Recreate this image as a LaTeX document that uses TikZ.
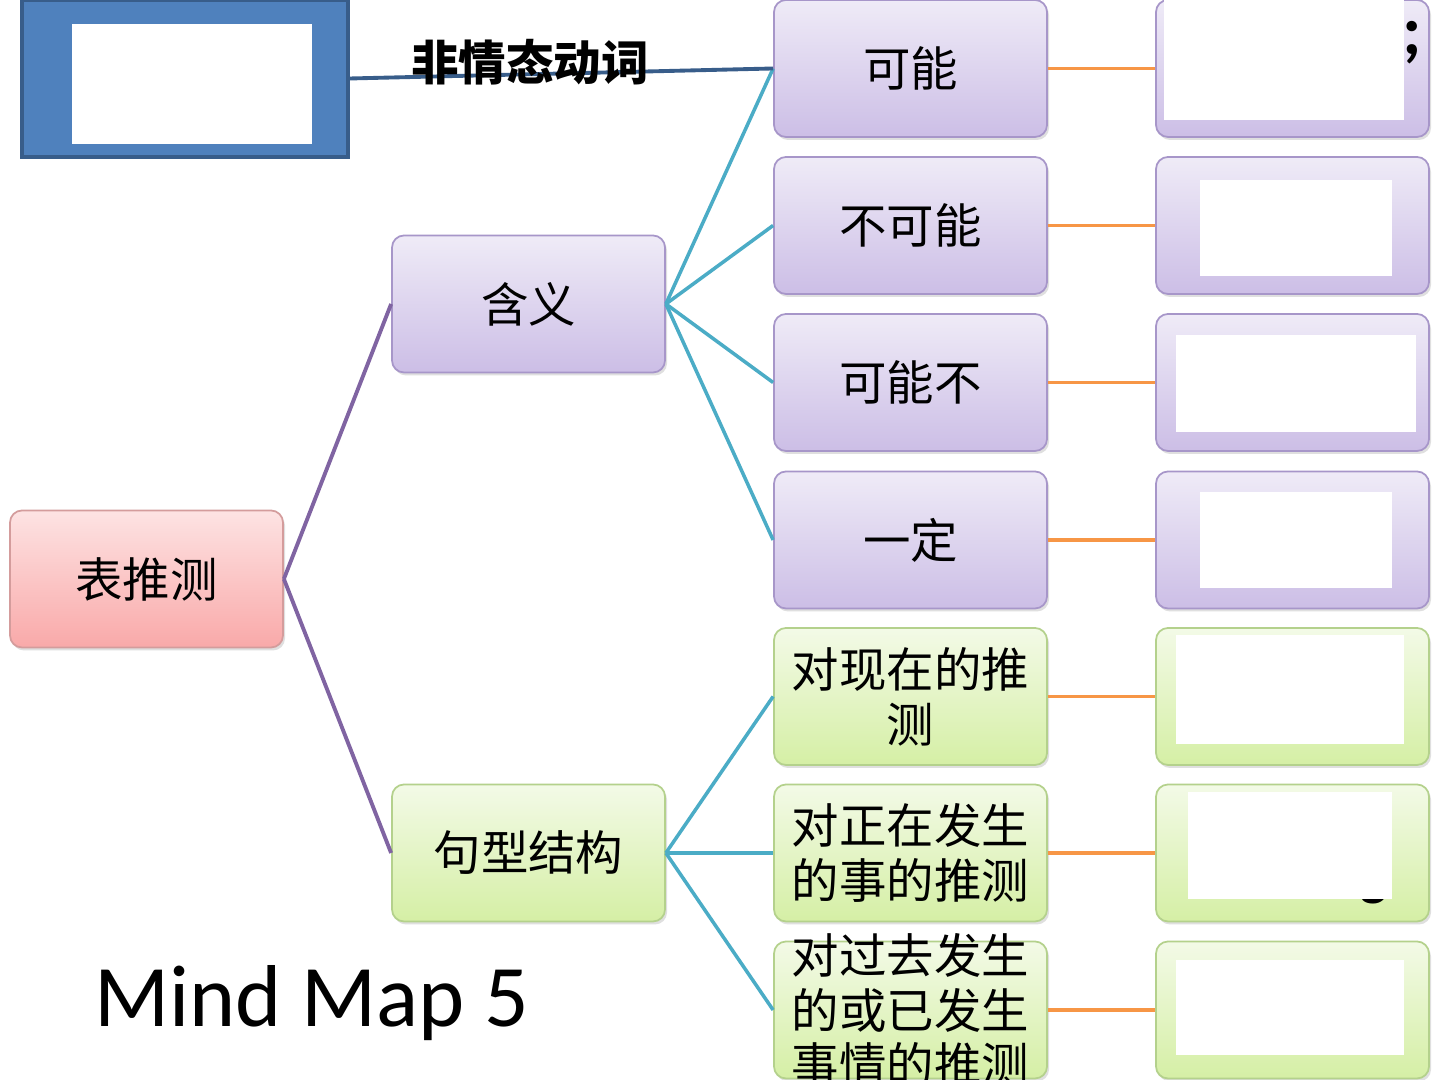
\documentclass[tikz,border=0pt]{standalone}
\usepackage{fontspec}
\setmainfont{Carlito}
\newfontfamily\cjk{Noto Sans CJK SC}
\usetikzlibrary{shadows}

\definecolor{pinktop}{HTML}{FDE3E3}
\definecolor{pinkbot}{HTML}{F9A9A9}
\definecolor{pinkline}{HTML}{D49C9C}
\definecolor{purpletop}{HTML}{EFEBF7}
\definecolor{purplebot}{HTML}{CCBEE6}
\definecolor{purpleline}{HTML}{A796C9}
\definecolor{greentop}{HTML}{F3FAE7}
\definecolor{greenbot}{HTML}{D5EFA5}
\definecolor{greenline}{HTML}{B4D18C}
\definecolor{bluefill}{HTML}{4F81BD}
\definecolor{blueline}{HTML}{385D8A}
\definecolor{rootlink}{HTML}{8064A2}
\definecolor{branchlink}{HTML}{4BACC6}
\definecolor{leaflink}{HTML}{F79646}

\tikzset{
  boxtext/.style={text width=2.45cm, align=center, font=\cjk\fontsize{13.5}{15.6}\selectfont},
  mapbox/.style={boxtext, draw, line width=0.5pt, rounded corners=0.12cm, minimum width=2.73cm, minimum height=1.37cm,
    drop shadow={opacity=0.25, shadow xshift=0.02cm, shadow yshift=-0.03cm}},
  pinkbox/.style={mapbox, top color=pinktop, bottom color=pinkbot, draw=pinkline},
  purplebox/.style={mapbox, top color=purpletop, bottom color=purplebot, draw=purpleline},
  greenbox/.style={mapbox, top color=greentop, bottom color=greenbot, draw=greenline},
  rootedge/.style={rootlink, line width=1.1pt},
  branchedge/.style={branchlink, line width=1pt},
  leafedge/.style={leaflink, line width=1pt}
}

\begin{document}
\begin{tikzpicture}
\fill[white] (0,0) rectangle (14.4,10.8);
\useasboundingbox (0,0) rectangle (14.4,10.8);
% blue picture frame, top left
\node (pic) [draw=blueline, line width=1.2pt, fill=bluefill, inner sep=0, minimum width=3.26cm, minimum height=1.57cm] at (1.85,10.015) {};
\node (picwhite) [fill=white, inner sep=0, minimum width=2.40cm, minimum height=1.20cm] at (1.92,9.96) {};
% the tree
\node (root) [pinkbox] at (1.465,5.01) {表推测};
\node (meaning) [purplebox] at (5.285,7.76) {含义};
\node (pattern) [greenbox] at (5.285,2.27) {句型结构};
\node (kn) [purplebox] at (9.105,10.115) {可能};
\node (bkn) [purplebox] at (9.105,8.545) {不可能};
\node (knb) [purplebox] at (9.105,6.975) {可能不};
\node (yd) [purplebox] at (9.105,5.40) {一定};
\node (now) [greenbox] at (9.105,3.835) {对现在的推\\测};
\node (ing) [greenbox] at (9.105,2.27) {对正在发生\\的事的推测};
\node (past) [greenbox] at (9.105,0.70) {};
\node (pasttext) [boxtext] at (past.center) {对过去发生\\的或已发生\\事情的推测};
\node (knex) [purplebox] at (12.925,10.115) {};
\node (bknex) [purplebox] at (12.925,8.545) {};
\node (knbex) [purplebox] at (12.925,6.975) {};
\node (ydex) [purplebox] at (12.925,5.40) {};
\node (nowex) [greenbox] at (12.925,3.835) {};
\node (ingex) [greenbox] at (12.925,2.27) {};
\node (pastex) [greenbox] at (12.925,0.70) {};
% connectors
\draw[rootedge] (root.east) -- (meaning.west);
\draw[rootedge] (root.east) -- (pattern.west);
\draw[branchedge] (meaning.east) -- (kn.west);
\draw[branchedge] (meaning.east) -- (bkn.west);
\draw[branchedge] (meaning.east) -- (knb.west);
\draw[branchedge] (meaning.east) -- (yd.west);
\draw[branchedge] (pattern.east) -- (now.west);
\draw[branchedge] (pattern.east) -- (ing.west);
\draw[branchedge] (pattern.east) -- (past.west);
\draw[leafedge] (kn.east) -- (knex.west);
\draw[leafedge] (bkn.east) -- (bknex.west);
\draw[leafedge] (knb.east) -- (knbex.west);
\draw[leafedge] (yd.east) -- (ydex.west);
\draw[leafedge] (now.east) -- (nowex.west);
\draw[leafedge] (ing.east) -- (ingex.west);
\draw[leafedge] (past.east) -- (pastex.west);
\draw[blueline, line width=1.1pt] (pic.east) -- (kn.west);
\node (verb) [font=\cjk\bfseries\fontsize{13.5}{16}\selectfont] at (5.30,10.18) {非情态动词};
% leftover marks beside the white patches
\node (semi) [font=\bfseries\fontsize{20}{24}\selectfont] at (14.12,10.37) {;};
\node (gtail) [anchor=south, inner sep=0, font=\bfseries\fontsize{16}{20}\selectfont] at (13.74,1.75) {g};
% white patches on the right column
\fill[white] (11.64,9.60) rectangle (14.04,10.8);
\fill[white] (12.00,8.04) rectangle (13.92,9.00);
\fill[white] (11.76,6.48) rectangle (14.16,7.45);
\fill[white] (12.00,4.92) rectangle (13.92,5.88);
\fill[white] (11.76,3.36) rectangle (14.04,4.45);
\fill[white] (11.88,1.81) rectangle (13.92,2.88);
\fill[white] (11.76,0.25) rectangle (14.04,1.20);
\node (title) [anchor=base west, font=\fontsize{25}{30}\selectfont] at (0.82,0.53) {Mind Map 5};
\end{tikzpicture}
\end{document}
